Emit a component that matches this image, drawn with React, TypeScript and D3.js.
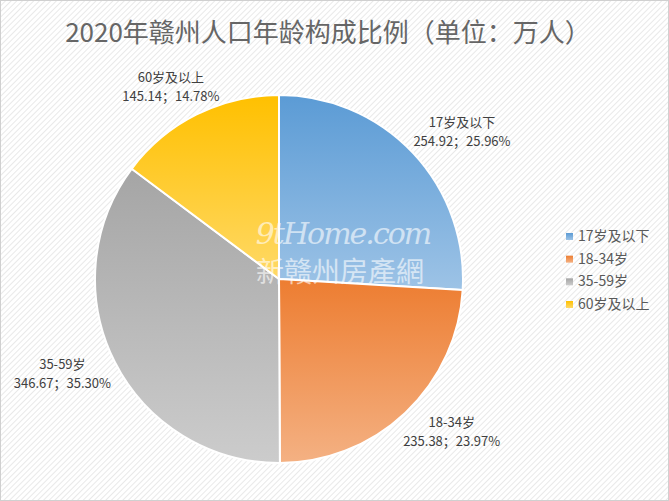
import React from "react";
import * as d3 from "d3";

const categories = ["17岁及以下", "18-34岁", "35-59岁", "60岁及以上"];
const values = [254.92, 235.38, 346.67, 145.14];
const percents = ["25.96%", "23.97%", "35.30%", "14.78%"];
const title = "2020年赣州人口年龄构成比例（单位：万人）";

const colorsTop = ["#5b9bd5", "#ed7d31", "#a5a5a5", "#ffc000"];
const colorsBottom = ["#9dc3e6", "#f4b183", "#cccccc", "#ffd966"];
// label nudges (dx, dy) relative to mid-angle anchor
const labelNudge = [
  [17, 8],
  [16, -14],
  [-13, -9],
  [-6, 11],
];

const W = 669;
const H = 501;
const cx = 279;
const cy = 279;
const R = 184;

export default function App() {
  const pie = d3
    .pie<number>()
    .sort(null)
    .value((d) => d)
    .startAngle(0)
    .endAngle(2 * Math.PI);
  const arcs = pie(values);
  const arcGen = d3.arc<d3.PieArcDatum<number>>().innerRadius(0).outerRadius(R);
  const labelR = 228;

  const legendY = d3
    .scalePoint<string>()
    .domain(categories)
    .range([236, 304]);

  return (
    <svg
      width={W}
      height={H}
      style={{ position: "absolute", left: 0, top: 0, background: "#fff" }}
      fontFamily="'Noto Sans CJK SC', 'Noto Sans', sans-serif"
    >
      <defs>
        <pattern
          id="stripes"
          width="4"
          height="4"
          patternUnits="userSpaceOnUse"
          patternTransform="rotate(45)"
        >
          <rect width="4" height="4" fill="#ffffff" />
          <line x1="0" y1="0" x2="0" y2="4" stroke="#e4e4e4" strokeWidth="1.6" />
        </pattern>
        {categories.map((c, i) => (
          <linearGradient key={c} id={`g${i}`} x1="0" y1="0" x2="0" y2="1">
            <stop offset="0" stopColor={colorsTop[i]} />
            <stop offset="1" stopColor={colorsBottom[i]} />
          </linearGradient>
        ))}
      </defs>
      <rect x={0} y={0} width={W} height={H} fill="url(#stripes)" />
      <rect x={0.5} y={0.5} width={W - 1} height={H - 1} fill="none" stroke="#d0d0d0" />

      <text
        x={328}
        y={42}
        textAnchor="middle"
        fontSize={26}
        fill="#666666"
      >
        {title}
      </text>

      <g transform={`translate(${cx},${cy})`}>
        {arcs.map((a, i) => (
          <path
            key={i}
            d={arcGen(a) || ""}
            fill={`url(#g${i})`}
            stroke="#ffffff"
            strokeWidth={2}
            strokeLinejoin="round"
          />
        ))}
      </g>

      {/* watermark */}
      <g opacity={0.6} fill="#ffffff">
        <text
          x={343}
          y={244}
          textAnchor="middle"
          fontSize={30}
          fontStyle="italic"
          fontFamily="'DejaVu Serif', 'Liberation Serif', serif"
          letterSpacing={-2}
        >
          9tHome.com
        </text>
        <text x={340} y={282} textAnchor="middle" fontSize={28}>
          新赣州房產網
        </text>
      </g>

      {arcs.map((a, i) => {
        const mid = (a.startAngle + a.endAngle) / 2;
        const x = cx + labelR * Math.sin(mid) + labelNudge[i][0];
        const y = cy - labelR * Math.cos(mid) + labelNudge[i][1];
        return (
          <text key={i} textAnchor="middle" fontSize={13} fill="#404040">
            <tspan x={x} y={y - 4}>
              {categories[i]}
            </tspan>
            <tspan x={x} y={y + 15}>
              {`${values[i].toFixed(2)}；${percents[i]}`}
            </tspan>
          </text>
        );
      })}

      {categories.map((c, i) => (
        <g key={c} transform={`translate(566,${legendY(c)})`}>
          <rect x={0} y={-3} width={7} height={7} fill={`url(#g${i})`} />
          <text x={12} y={5} fontSize={14} fill="#595959">
            {c}
          </text>
        </g>
      ))}
    </svg>
  );
}
